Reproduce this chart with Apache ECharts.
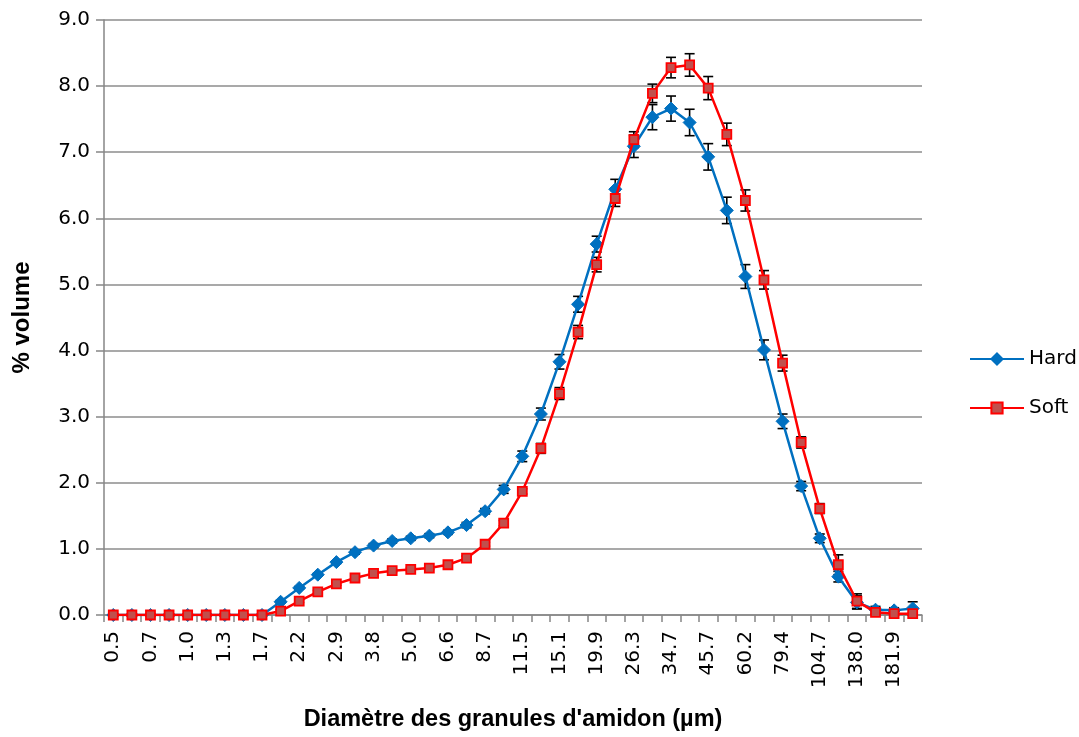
<!DOCTYPE html>
<html>
<head>
<meta charset="utf-8">
<script src="https://cdn.jsdelivr.net/npm/echarts@6/dist/echarts.min.js"></script>
<style>
html,body{margin:0;padding:0;background:#fff;overflow:hidden;}
#chart{width:1079px;height:737px;}
</style>
</head>
<body>
<div id="chart"></div>
<script>
const categories = ['0.5','0.6','0.7','0.8','1.0','1.1','1.3','1.4','1.7','1.9','2.2','2.5','2.9','3.3','3.8','4.4','5.0','5.8','6.6','7.6','8.7','10.0','11.5','13.2','15.1','17.4','19.9','22.9','26.3','30.2','34.7','39.8','45.7','52.5','60.2','69.2','79.4','91.2','104.7','120.2','138.0','158.5','181.9','208.9'];
const hard = [0,0,0,0,0,0,0,0,0,0.20,0.41,0.61,0.80,0.95,1.05,1.12,1.16,1.20,1.25,1.36,1.57,1.90,2.40,3.04,3.83,4.70,5.61,6.44,7.09,7.53,7.66,7.45,6.93,6.12,5.12,4.01,2.93,1.95,1.16,0.58,0.19,0.08,0.07,0.10];
const soft = [0,0,0,0,0,0,0,0,0,0.06,0.21,0.35,0.47,0.56,0.63,0.67,0.69,0.71,0.76,0.86,1.07,1.39,1.87,2.52,3.35,4.28,5.30,6.30,7.19,7.89,8.28,8.32,7.97,7.27,6.27,5.07,3.81,2.61,1.61,0.76,0.21,0.04,0.02,0.02];
const hardSD = [0,0,0,0,0,0,0,0,0,0.02,0.02,0.02,0.02,0.03,0.03,0.03,0.03,0.03,0.03,0.04,0.04,0.06,0.08,0.09,0.11,0.12,0.12,0.15,0.17,0.19,0.19,0.20,0.20,0.20,0.18,0.15,0.11,0.07,0.065,0.08,0.10,0.05,0.04,0.10];
const softSD = [0,0,0,0,0,0,0,0,0,0.02,0.02,0.02,0.02,0.02,0.02,0.02,0.02,0.02,0.02,0.03,0.03,0.04,0.04,0.075,0.09,0.10,0.11,0.12,0.12,0.14,0.155,0.17,0.175,0.17,0.16,0.14,0.12,0.085,0.075,0.15,0.11,0.03,0.03,0.02];
const yTicks = [0,1,2,3,4,5,6,7,8,9];

const chart = echarts.init(document.getElementById('chart'), null, {width: 1079, height: 737});

function errorBars(vals, sds) {
  return vals.map((v, i) => [i, v, sds[i]]);
}
function renderErr(params, api) {
  const i = api.value(0), v = api.value(1), sd = api.value(2);
  if (!sd) return null;
  const top = api.coord([i, v + sd]);
  const bot = api.coord([i, Math.max(0, v - sd)]);
  const w = 5;
  const style = {stroke: '#000', lineWidth: 1.6};
  return {
    type: 'group',
    children: [
      {type: 'line', shape: {x1: top[0], y1: top[1], x2: bot[0], y2: bot[1]}, style: style},
      {type: 'line', shape: {x1: top[0] - w, y1: top[1], x2: top[0] + w, y2: top[1]}, style: style},
      {type: 'line', shape: {x1: bot[0] - w, y1: bot[1], x2: bot[0] + w, y2: bot[1]}, style: style}
    ]
  };
}

const labelFont = '"DejaVu Sans", sans-serif';
const titleFont = '"Liberation Sans", Arial, sans-serif';
chart.setOption({
  animation: false,
  backgroundColor: '#fff',
  grid: {left: 104, width: 818, top: 20, height: 600, containLabel: false},
  legend: {
    data: ['Hard', 'Soft'],
    orient: 'vertical',
    left: 964,
    top: 344,
    itemWidth: 54,
    itemHeight: 14,
    itemGap: 29,
    textStyle: {fontFamily: labelFont, fontSize: 20, color: '#000'}
  },
  xAxis: {
    type: 'category',
    data: categories,
    boundaryGap: true,
    name: 'Diamètre des granules d\'amidon (µm)',
    nameLocation: 'middle',
    nameGap: 93,
    nameTextStyle: {fontFamily: titleFont, fontWeight: 'bold', fontSize: 23.5, color: '#000'},
    axisLine: {lineStyle: {color: '#868686', width: 1.5}},
    axisTick: {show: true, interval: 0, length: 7, lineStyle: {color: '#868686', width: 1.5}},
    axisLabel: {interval: 1, rotate: 90, margin: 16, fontFamily: labelFont, fontSize: 20, color: '#000'},
    splitLine: {show: false}
  },
  yAxis: {
    type: 'value',
    min: yTicks[0],
    max: yTicks[yTicks.length - 1],
    interval: 1,
    name: '% volume',
    nameLocation: 'middle',
    nameGap: 70,
    nameRotate: 90,
    nameTextStyle: {fontFamily: titleFont, fontWeight: 'bold', fontSize: 24, color: '#000'},
    axisLine: {show: true, lineStyle: {color: '#868686', width: 1.5}},
    axisTick: {show: true, length: 8, lineStyle: {color: '#868686', width: 1.5}},
    axisLabel: {margin: 14, fontFamily: labelFont, fontSize: 20, color: '#000', formatter: v => v.toFixed(1)},
    splitLine: {show: true, lineStyle: {color: '#8c8c8c', width: 1.5}}
  },
  series: [
    {
      type: 'custom', name: 'hardErr', z: 1, silent: true,
      renderItem: renderErr, data: errorBars(hard, hardSD)
    },
    {
      type: 'custom', name: 'softErr', z: 1, silent: true,
      renderItem: renderErr, data: errorBars(soft, softSD)
    },
    {
      name: 'Hard', type: 'line', z: 3, data: hard,
      symbol: 'diamond', symbolSize: 13, showAllSymbol: true,
      lineStyle: {color: '#0070C0', width: 2.5},
      itemStyle: {color: '#0070C0', borderColor: '#0070C0', borderWidth: 1}
    },
    {
      name: 'Soft', type: 'line', z: 4, data: soft,
      symbol: 'rect', symbolSize: 9, showAllSymbol: true,
      lineStyle: {color: '#FF0000', width: 2.5},
      itemStyle: {color: '#C0504D', borderColor: '#FF0000', borderWidth: 1.8}
    }
  ]
});
</script>
</body>
</html>
